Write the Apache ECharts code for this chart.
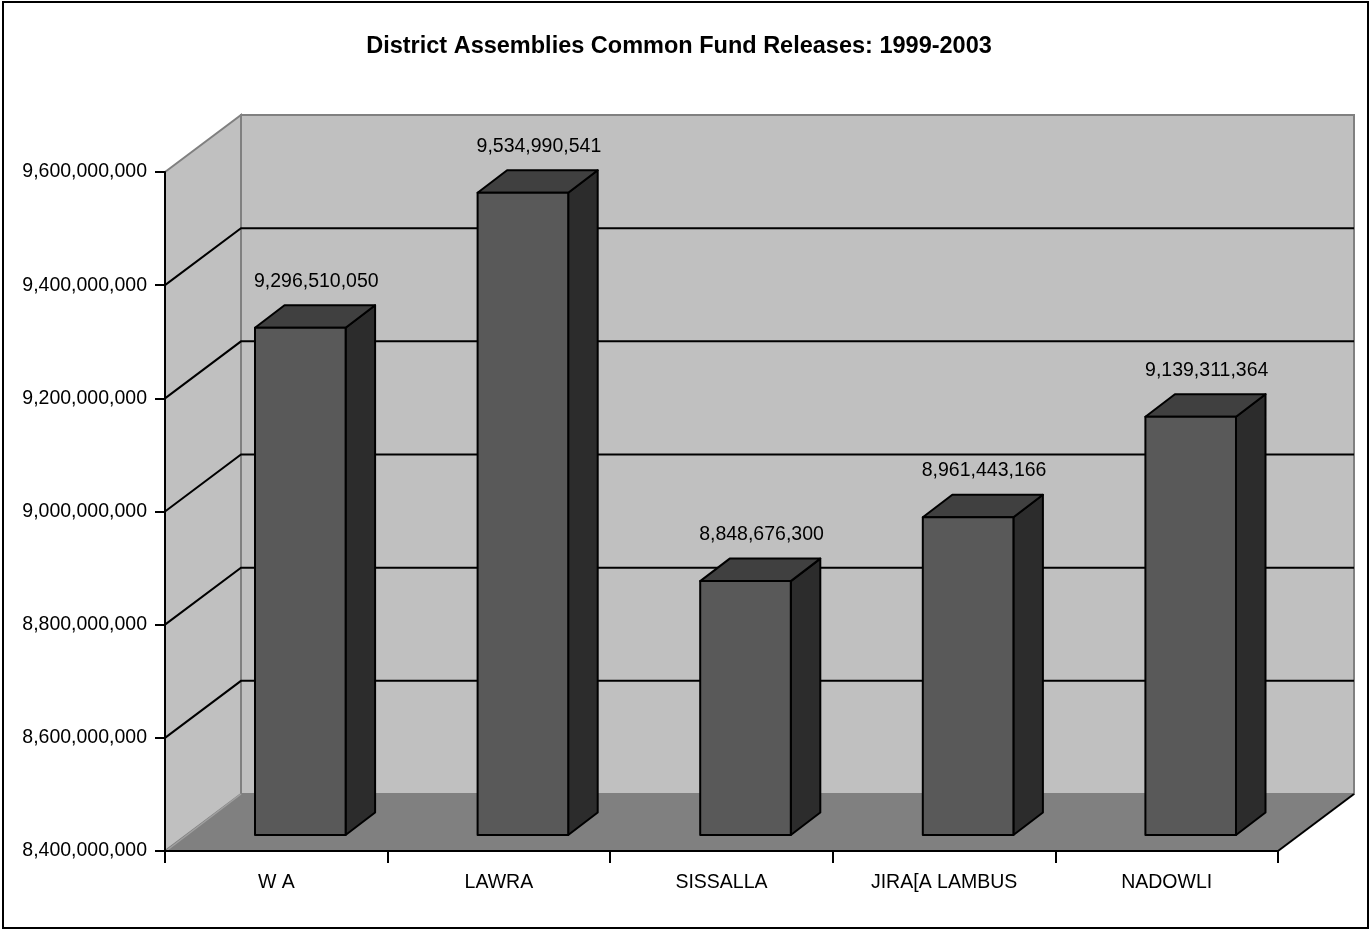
<!DOCTYPE html>
<html>
<head>
<meta charset="utf-8">
<script src="https://cdn.jsdelivr.net/npm/echarts@6/dist/echarts.min.js"></script>
<style>
html,body{margin:0;padding:0;background:#fff;}
#chart{width:1371px;height:931px;}
</style>
</head>
<body>
<div id="chart"></div>
<script>
const categories = ['W A', 'LAWRA', 'SISSALLA', 'JIRA[A LAMBUS', 'NADOWLI'];
const values = [9296510050, 9534990541, 8848676300, 8961443166, 9139311364];
const yTicks = [8400000000, 8600000000, 8800000000, 9000000000, 9200000000, 9400000000, 9600000000];
const titleText = 'District Assemblies Common Fund Releases: 1999-2003';

const FONT = '"Liberation Sans", Arial, sans-serif';
const WALL_D = [76, -57];      // depth of the 3D box (px)
const BAR_OFF = [24, -16];     // bar front face offset from front plane
const BAR_D = [29.5, -22.5];   // bar depth
const BAR_W = 0.407;           // bar width as fraction of category band

const chart = echarts.init(document.getElementById('chart'), null, {renderer: 'canvas'});
const fmt = v => Number(v).toLocaleString('en-US');

function wallsRender(params, api) {
  const n = categories.length;
  const bw = api.size([1, 0])[0];
  const x0 = api.coord([0, yTicks[0]])[0] - bw / 2;
  const x1 = api.coord([n - 1, yTicks[0]])[0] + bw / 2;
  const yB = api.coord([0, yTicks[0]])[1];
  const yT = api.coord([0, yTicks[yTicks.length - 1]])[1];
  const dx = WALL_D[0], dy = WALL_D[1];
  const ch = [];
  ch.push({type: 'polygon', shape: {points: [[x0 + dx, yT + dy], [x1 + dx, yT + dy], [x1 + dx, yB + dy], [x0 + dx, yB + dy]]},
    style: {fill: '#c0c0c0', stroke: '#808080', lineWidth: 2}});
  ch.push({type: 'polygon', shape: {points: [[x0, yT], [x0 + dx, yT + dy], [x0 + dx, yB + dy], [x0, yB]]},
    style: {fill: '#c0c0c0', stroke: '#808080', lineWidth: 2}});
  ch.push({type: 'polygon', shape: {points: [[x0, yB], [x0 + dx, yB + dy], [x1 + dx, yB + dy], [x1, yB]]},
    style: {fill: '#808080', stroke: null}});
  ch.push({type: 'line', shape: {x1: x1, y1: yB, x2: x1 + dx, y2: yB + dy}, style: {stroke: '#000', lineWidth: 2}});
  ch.push({type: 'line', shape: {x1: x0 + 1, y1: yB, x2: x0 + dx, y2: yB + dy}, style: {stroke: '#a0a0a0', lineWidth: 1.5}});
  for (let i = 1; i < yTicks.length - 1; i++) {
    const y = api.coord([0, yTicks[i]])[1];
    ch.push({type: 'polyline', shape: {points: [[x0, y], [x0 + dx, y + dy], [x1 + dx, y + dy]]},
      style: {stroke: '#000', lineWidth: 2, fill: null}});
  }
  return {type: 'group', children: ch};
}

function barRender(params, api) {
  const i = api.value(0);
  const v = api.value(1);
  const bw = api.size([1, 0])[0];
  const w = bw * BAR_W;
  const c = api.coord([i, v]);
  const b = api.coord([i, yTicks[0]]);
  const fx = c[0] + BAR_OFF[0] - w / 2;
  const fT = c[1] + BAR_OFF[1];
  const fB = b[1] + BAR_OFF[1];
  const dx = BAR_D[0], dy = BAR_D[1];
  const st = {stroke: '#000', lineWidth: 2, lineJoin: 'round'};
  return {type: 'group', children: [
    {type: 'polygon', shape: {points: [[fx + w, fT], [fx + w + dx, fT + dy], [fx + w + dx, fB + dy], [fx + w, fB]]},
      style: Object.assign({fill: '#2c2c2c'}, st)},
    {type: 'polygon', shape: {points: [[fx, fT], [fx + dx, fT + dy], [fx + w + dx, fT + dy], [fx + w, fT]]},
      style: Object.assign({fill: '#404040'}, st)},
    {type: 'rect', shape: {x: fx, y: fT, width: w, height: fB - fT},
      style: Object.assign({fill: '#595959'}, st)},
    {type: 'text', x: c[0] + BAR_OFF[0] + 16, y: fT + dy - 24,
      style: {text: fmt(v), fill: '#000', font: '19.5px ' + FONT, align: 'center', verticalAlign: 'middle'}}
  ]};
}

const option = {
  animation: false,
  backgroundColor: '#fff',
  title: {
    text: titleText, left: 674, top: 30, textAlign: 'center',
    textStyle: {fontFamily: FONT, fontWeight: 'bold', fontSize: 23.5, color: '#000'}
  },
  graphic: [{type: 'rect', shape: {x: 3, y: 2, width: 1365, height: 926}, style: {fill: null, stroke: '#000', lineWidth: 2}, z: 100}],
  grid: {left: 165, right: 93, top: 172, bottom: 80, containLabel: false},
  xAxis: {
    type: 'category', data: categories, boundaryGap: true, z: 10,
    axisLine: {lineStyle: {color: '#000', width: 2}},
    axisTick: {show: true, length: 12, alignWithLabel: false, lineStyle: {color: '#000', width: 2}},
    axisLabel: {margin: 22, color: '#000', fontFamily: FONT, fontSize: 19.5},
    splitLine: {show: false}
  },
  yAxis: {
    type: 'value', min: yTicks[0], max: yTicks[yTicks.length - 1], interval: 200000000, z: 10,
    axisLine: {show: true, lineStyle: {color: '#000', width: 2}},
    axisTick: {show: true, length: 10, lineStyle: {color: '#000', width: 2}},
    axisLabel: {margin: 18, color: '#000', fontFamily: FONT, fontSize: 19.5, formatter: v => fmt(v)},
    splitLine: {show: false}
  },
  series: [
    {type: 'custom', renderItem: wallsRender, data: [[0, yTicks[0]]], clip: false, z: 1, silent: true},
    {type: 'custom', renderItem: barRender, data: values.map((v, i) => [i, v]), clip: false, z: 2, silent: true}
  ]
};
chart.setOption(option);
</script>
</body>
</html>
